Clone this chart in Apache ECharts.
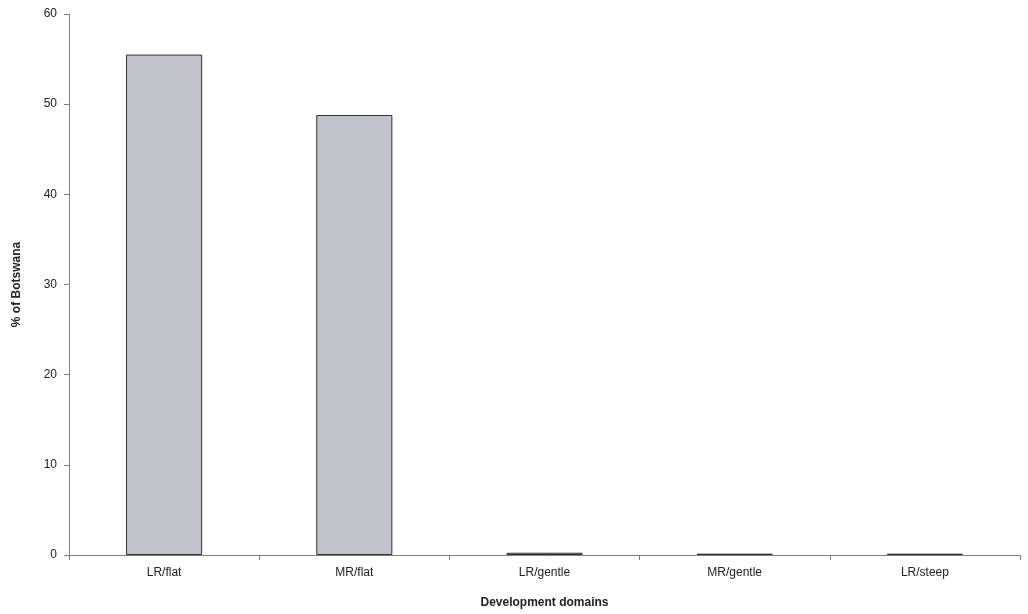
<!DOCTYPE html>
<html><head><meta charset="utf-8">
<script src="https://cdn.jsdelivr.net/npm/echarts@6/dist/echarts.min.js"></script>
<style>html,body{margin:0;padding:0;background:#fff}#c{width:1028px;height:614px}</style>
</head><body><div id="c"></div>
<script>
const categories = ['LR/flat','MR/flat','LR/gentle','MR/gentle','LR/steep'];
const values = [55.5, 48.8, 0.25, 0.15, 0.15];
const yTicks = {min:0, max:60, interval:10};
const chart = echarts.init(document.getElementById('c'));
const font = 'Liberation Sans, Arial, sans-serif';
chart.setOption({
  animation:false,
  grid:{left:69,right:8,top:14,bottom:59,containLabel:false},
  xAxis:{type:'category',data:categories,
    name:'Development domains',nameLocation:'middle',nameGap:42,
    nameTextStyle:{fontFamily:font,fontSize:12,fontWeight:'bold',color:'#222'},
    axisLine:{lineStyle:{color:'#808080',width:1}},
    axisTick:{show:true,alignWithLabel:false,length:5,lineStyle:{color:'#808080'}},
    axisLabel:{fontFamily:font,fontSize:12,color:'#222',margin:12}},
  yAxis:{type:'value',min:yTicks.min,max:yTicks.max,interval:yTicks.interval,
    name:'% of Botswana',nameLocation:'middle',nameGap:46,
    nameTextStyle:{fontFamily:font,fontSize:12,fontWeight:'bold',color:'#222'},
    axisLine:{show:true,lineStyle:{color:'#808080',width:1}},
    axisTick:{show:true,length:5,lineStyle:{color:'#808080'}},
    splitLine:{show:false},
    axisLabel:{fontFamily:font,fontSize:12,color:'#222',margin:12}},
  series:[{type:'bar',data:values,barWidth:'40%',
    itemStyle:{color:'#c0c3cc',borderColor:'#333',borderWidth:1}}]
});
</script></body></html>
